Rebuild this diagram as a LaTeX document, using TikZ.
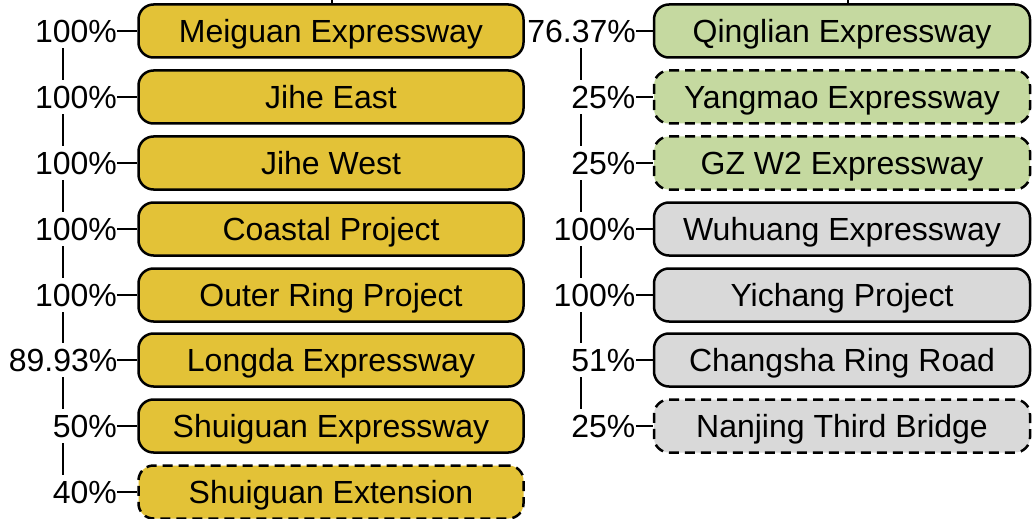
\documentclass[tikz,border=0pt]{standalone}
\usepackage{fontspec}
\setmainfont{Liberation Sans}
\usetikzlibrary{positioning}

\definecolor{projgold}{RGB}{227,194,55}
\definecolor{projgreen}{RGB}{197,217,160}
\definecolor{projgray}{RGB}{217,217,217}

\begin{document}
\begin{tikzpicture}[x=0.5pt, y=-0.5pt,
    font=\fontsize{16}{19}\selectfont,
    proj/.style={draw=black, line width=1.25pt, rounded corners=7.5pt,
        minimum height=26.5pt, inner sep=0pt, text height=11.5pt, text depth=0pt},
    projL/.style={proj, minimum width=192.5pt},
    projR/.style={proj, minimum width=188pt},
    minor/.style={dash pattern=on 5pt off 3pt},
    share/.style={text width=54pt, align=right, inner sep=0pt, minimum height=17pt,
        text height=11.5pt, text depth=0pt},
    link/.style={line width=1pt}]

    \useasboundingbox (0,0) rectangle (1033,519);

    % left column
    \node[projL, fill=projgold] (meiguan) at (331, 31) {Meiguan Expressway};
    \node[projL, fill=projgold] (jiheE) at (331, 97) {Jihe East};
    \node[projL, fill=projgold] (jiheW) at (331, 163) {Jihe West};
    \node[projL, fill=projgold] (coastal) at (331, 229) {Coastal Project};
    \node[projL, fill=projgold] (outer) at (331, 295) {Outer Ring Project};
    \node[projL, fill=projgold] (longda) at (331, 360) {Longda Expressway};
    \node[projL, fill=projgold] (shuiguan) at (331, 426) {Shuiguan Expressway};
    \node[projL, minor, fill=projgold] (shuiext) at (331, 492) {Shuiguan Extension};

    \node[share, left=10pt of meiguan] (pMeiguan) {100\%};
    \node[share, left=10pt of jiheE] (pJiheE) {100\%};
    \node[share, left=10pt of jiheW] (pJiheW) {100\%};
    \node[share, left=10pt of coastal] (pCoastal) {100\%};
    \node[share, left=10pt of outer] (pOuter) {100\%};
    \node[share, left=10pt of longda] (pLongda) {89.93\%};
    \node[share, left=10pt of shuiguan] (pShuiguan) {50\%};
    \node[share, left=10pt of shuiext] (pShuiext) {40\%};

    \coordinate (topL) at (332, 0);
    \draw[link] (topL) -- (topL |- meiguan.north);
    \draw[link] (pMeiguan.south) -- (pJiheE.north);
    \draw[link] (pJiheE.south) -- (pJiheW.north);
    \draw[link] (pJiheW.south) -- (pCoastal.north);
    \draw[link] (pCoastal.south) -- (pOuter.north);
    \draw[link] (pOuter.south) -- (pLongda.north);
    \draw[link] (pLongda.south) -- (pShuiguan.north);
    \draw[link] (pShuiguan.south) -- (pShuiext.north);
    \draw[link] (pMeiguan.east) -- (meiguan.west);
    \draw[link] (pJiheE.east) -- (jiheE.west);
    \draw[link] (pJiheW.east) -- (jiheW.west);
    \draw[link] (pCoastal.east) -- (coastal.west);
    \draw[link] (pOuter.east) -- (outer.west);
    \draw[link] (pLongda.east) -- (longda.west);
    \draw[link] (pShuiguan.east) -- (shuiguan.west);
    \draw[link] (pShuiext.east) -- (shuiext.west);

    % right column
    \node[projR, fill=projgreen] (qinglian) at (842, 31) {Qinglian Expressway};
    \node[projR, minor, fill=projgreen] (yangmao) at (842, 97) {Yangmao Expressway};
    \node[projR, minor, fill=projgreen] (gzwest) at (842, 163) {GZ W2 Expressway};
    \node[projR, fill=projgray] (wuhuang) at (842, 229) {Wuhuang Expressway};
    \node[projR, fill=projgray] (yichang) at (842, 295) {Yichang Project};
    \node[projR, fill=projgray] (changsha) at (842, 360) {Changsha Ring Road};
    \node[projR, minor, fill=projgray] (nanjing) at (842, 426) {Nanjing Third Bridge};

    \node[share, left=8.5pt of qinglian] (pQinglian) {76.37\%};
    \node[share, left=8.5pt of yangmao] (pYangmao) {25\%};
    \node[share, left=8.5pt of gzwest] (pGzwest) {25\%};
    \node[share, left=8.5pt of wuhuang] (pWuhuang) {100\%};
    \node[share, left=8.5pt of yichang] (pYichang) {100\%};
    \node[share, left=8.5pt of changsha] (pChangsha) {51\%};
    \node[share, left=8.5pt of nanjing] (pNanjing) {25\%};

    \coordinate (topR) at (848, 0);
    \draw[link] (topR) -- (topR |- qinglian.north);
    \draw[link] (pQinglian.south) -- (pYangmao.north);
    \draw[link] (pYangmao.south) -- (pGzwest.north);
    \draw[link] (pGzwest.south) -- (pWuhuang.north);
    \draw[link] (pWuhuang.south) -- (pYichang.north);
    \draw[link] (pYichang.south) -- (pChangsha.north);
    \draw[link] (pChangsha.south) -- (pNanjing.north);
    \draw[link] (pQinglian.east) -- (qinglian.west);
    \draw[link] (pYangmao.east) -- (yangmao.west);
    \draw[link] (pGzwest.east) -- (gzwest.west);
    \draw[link] (pWuhuang.east) -- (wuhuang.west);
    \draw[link] (pYichang.east) -- (yichang.west);
    \draw[link] (pChangsha.east) -- (changsha.west);
    \draw[link] (pNanjing.east) -- (nanjing.west);

\end{tikzpicture}
\end{document}
